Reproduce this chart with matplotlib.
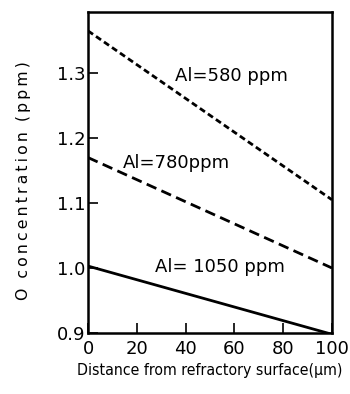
import matplotlib
matplotlib.use("Agg")
import matplotlib.pyplot as plt

# distance from refractory surface (um) and O concentration (ppm)
distance = [0, 100]
o_580 = [1.365, 1.105]
o_780 = [1.170, 1.000]
o_1050 = [1.003, 0.898]

labels = ["Al=580 ppm", "Al=780ppm", "Al= 1050 ppm"]
label_pos = [(35.5, 1.295), (14.3, 1.162), (27.5, 1.002)]

plt.rcParams['font.family'] = ['DejaVu Sans']

fig = plt.figure(figsize=(3.5, 3.94), dpi=100)
ax = fig.add_axes([88 / 350, 1 - 333 / 394, 244 / 350, 321 / 394])

ax.plot(distance, o_580, color='black', lw=2, linestyle=(0, (2.2, 1.3)))
ax.plot(distance, o_780, color='black', lw=2, linestyle=(0, (3.8, 2.0)))
ax.plot(distance, o_1050, color='black', lw=2, solid_capstyle='butt')

for txt, (x, y) in zip(labels, label_pos):
    ax.text(x, y, txt, fontsize=13, va='center', ha='left')

ax.set_xlim(0, 100)
ax.set_ylim(0.9, 1.394)
ax.set_xticks([0, 20, 40, 60, 80, 100])
ax.set_yticks([0.9, 1.0, 1.1, 1.2, 1.3])
ax.set_yticklabels(["0.9", "1.0", "1.1", "1.2", "1.3"])

ax.tick_params(direction='in', length=7, width=1.2, labelsize=13, pad=2)
ax.tick_params(axis='x', pad=5)
for s in ax.spines.values():
    s.set_linewidth(1.8)

ax.set_xlabel("Distance from refractory surface(\u03bcm)", fontsize=11.3,
              fontstretch='condensed', labelpad=4)

# letter-spaced y label
ylab = "  ".join("\u2009".join(w) for w in ["O", "concentration", "(ppm)"])
ax.set_ylabel(ylab, fontsize=11.3)
ax.yaxis.set_label_coords(-0.235, 0.475)

fig.savefig("out.png", dpi=100)
